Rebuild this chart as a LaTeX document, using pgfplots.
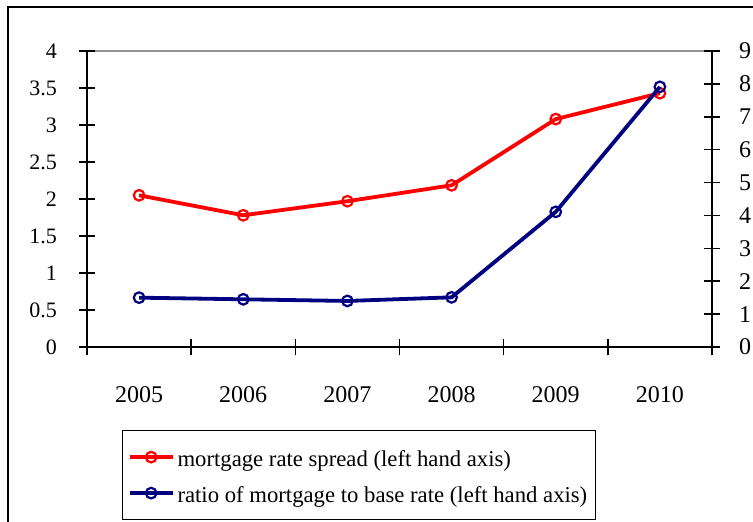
\documentclass[border=0pt]{standalone}
\usepackage{pgfplots}
\pgfplotsset{compat=1.18}
\usepackage{fontspec}
\setmainfont{Liberation Serif}
\definecolor{myred}{RGB}{255,0,0}
\definecolor{mynavy}{RGB}{0,0,128}
\begin{document}
\begin{tikzpicture}
\useasboundingbox (-87pt,-175pt) rectangle (666pt,347pt);
\draw[line width=2pt] (-79pt,-180pt) -- (-79pt,340pt) -- (670pt,340pt);
\pgfplotsset{
  common/.style={
    width=625pt, height=296pt, scale only axis,
    xmin=0, xmax=6,
    tick align=center, major tick length=16pt,
    tick style={black, line width=1.5pt},
    axis line style={-, line width=2pt},
    /pgf/number format/assume math mode=true,
  },
  legend image code/.code={\draw[mark repeat=2,mark phase=2,#1] plot coordinates {(0pt,0pt)(21.5pt,0pt)(43pt,0pt)};},
}
\begin{axis}[common,
  ymin=0, ymax=4,
  axis x line*=bottom, axis y line*=left,
  xtick={0,...,6}, xticklabels={2005,2006,2007,2008,2009,2010},
  x tick label as interval,
  xticklabel style={anchor=base, inner sep=0pt, yshift=-47pt, font=\fontsize{24}{28}\selectfont},
  ytick={0,0.5,...,4},
  yticklabel style={anchor=east, inner sep=0pt, xshift=-22pt, font=\fontsize{22}{26}\selectfont},
  extra y ticks={4}, extra y tick labels={},
  extra y tick style={grid=major, major grid style={gray!85, line width=1.5pt}},
]
\addplot[myred, line width=3.8pt, mark=o, mark size=5.3pt, mark options={fill=white, line width=2.2pt}]
  coordinates {(0.5,2.05) (1.5,1.78) (2.5,1.97) (3.5,2.185) (4.5,3.08) (5.5,3.43)};
\end{axis}
\begin{axis}[common,
  ymin=0, ymax=9,
  axis x line=none, axis y line*=right,
  ytick={0,...,9},
  yticklabel style={anchor=west, inner sep=0pt, xshift=19pt, font=\fontsize{24}{28}\selectfont},
  legend style={at={(rel axis cs:0.056,-0.28)}, anchor=north west,
    draw=black, line width=1.5pt, inner xsep=5pt, inner ysep=15pt,
    font=\fontsize{22.7}{27}\selectfont, row sep=13pt,
    nodes={inner xsep=3pt, inner ysep=0pt, text height=21pt, text depth=2pt}},
  legend cell align=left,
]
\addlegendimage{myred, line width=3.8pt, mark=o, mark size=5.3pt, mark options={fill=white, line width=2.2pt}}
\addlegendentry{mortgage rate spread (left hand axis)}
\addplot[mynavy, line width=3.8pt, mark=o, mark size=5.3pt, mark options={fill=white, line width=2.2pt}]
  coordinates {(0.5,1.50) (1.5,1.45) (2.5,1.40) (3.5,1.51) (4.5,4.11) (5.5,7.91)};
\addlegendentry{ratio of mortgage to base rate (left hand axis)}
\end{axis}
\end{tikzpicture}
\end{document}
